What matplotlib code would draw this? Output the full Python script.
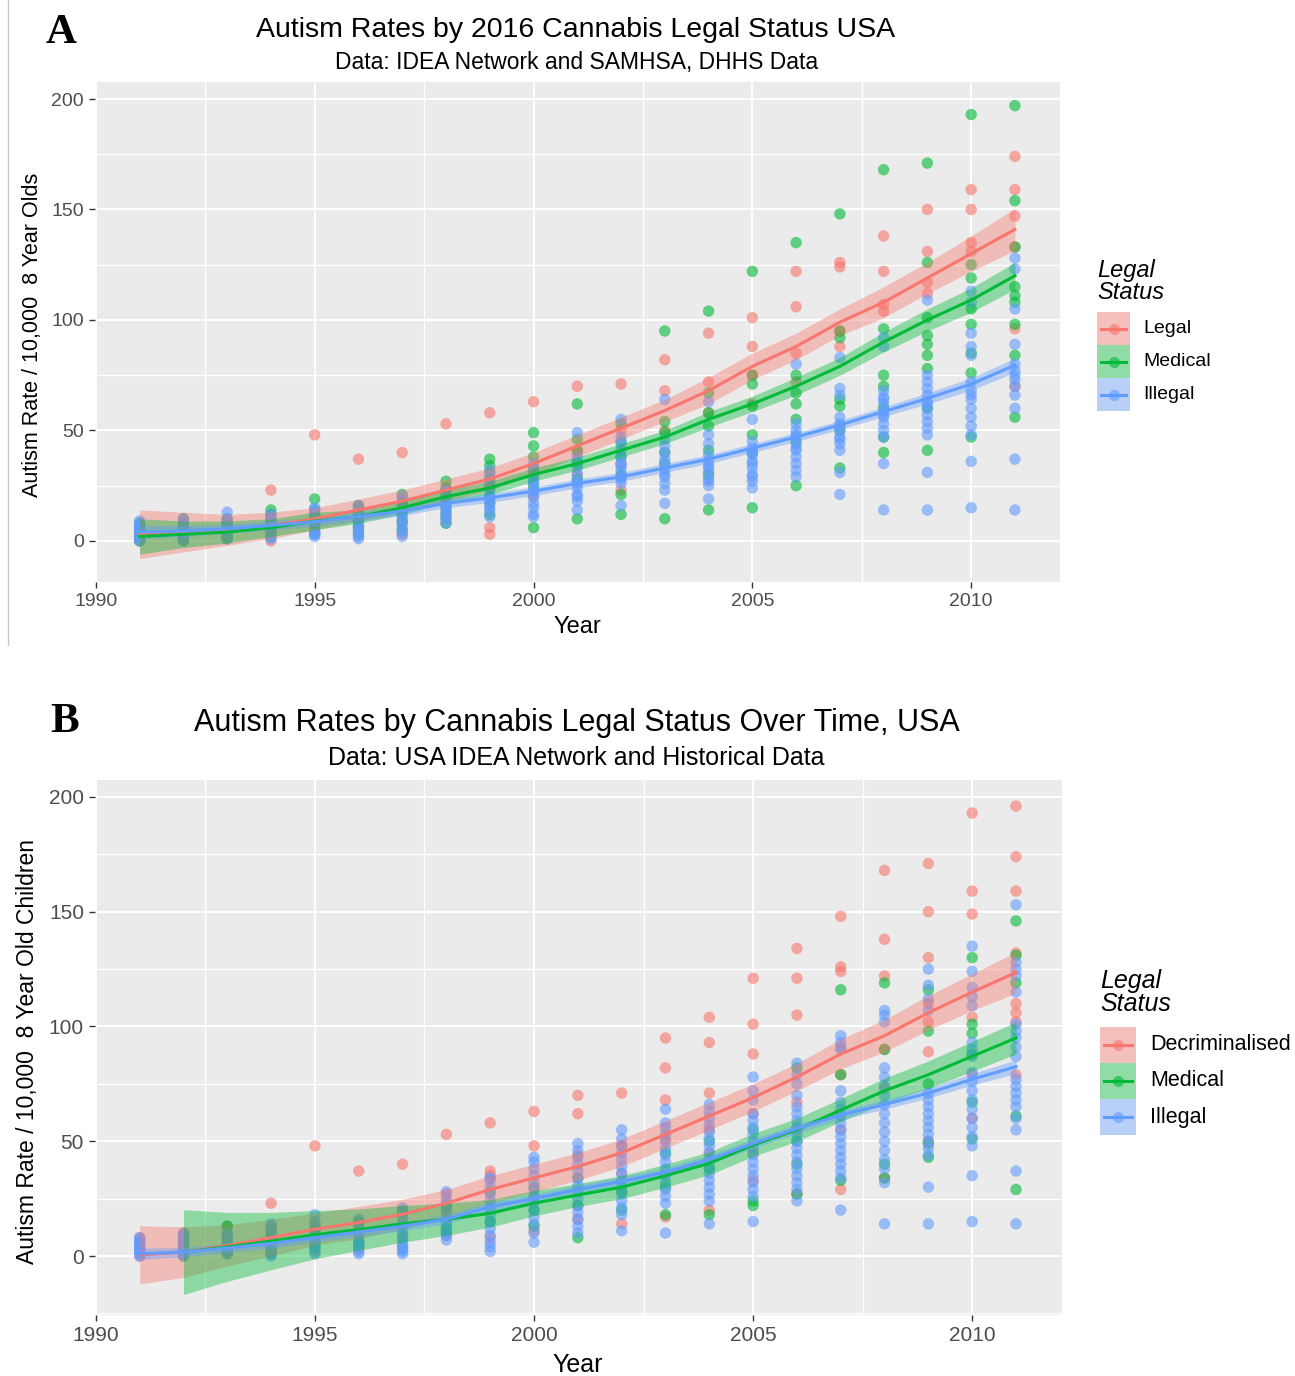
import numpy as np
import matplotlib
matplotlib.use("Agg")
import matplotlib.pyplot as plt
from matplotlib.ticker import MultipleLocator
from matplotlib.patches import Rectangle
from matplotlib.lines import Line2D

plt.rcParams['font.family'] = ['Liberation Sans', 'DejaVu Sans']

years = list(range(1991, 2012))

# ---- Panel A: 2016 legal status ----
a_legal = [
    [2, 5, 0, 7], [1, 4, 8, 2], [2, 6, 9, 1], [23, 0, 5, 9], [48, 10, 4, 7],
    [37, 12, 6], [40, 18, 8, 3], [53, 23, 10], [58, 6, 3, 25], [63, 30, 20],
    [70, 40, 30], [71, 50, 35, 23], [82, 68, 50], [94, 72, 58], [101, 88, 75, 62],
    [122, 106, 85, 72], [126, 124, 88, 95], [138, 122, 107, 104], [150, 131, 117, 112],
    [159, 150, 131, 135], [174, 159, 147, 96, 70, 133],
]
a_medical = [
    [1, 4, 8, 0, 6, 3, 2], [0, 3, 6, 10, 2, 5], [1, 5, 8, 3, 10], [14, 2, 6, 10, 12],
    [19, 3, 8, 12, 14], [15, 3, 9, 16, 6], [21, 5, 12, 17, 9], [27, 8, 15, 20, 24, 12],
    [37, 34, 12, 20, 28, 31, 17], [49, 43, 38, 6, 25, 33], [62, 46, 41, 10, 28, 35],
    [53, 45, 21, 12, 38, 30], [95, 54, 49, 10, 40, 35], [104, 67, 58, 52, 41, 14, 30],
    [122, 75, 71, 61, 48, 15, 40], [135, 75, 67, 62, 25, 45, 55],
    [148, 95, 92, 64, 61, 33, 50], [168, 96, 75, 70, 47, 40, 60],
    [171, 126, 101, 93, 89, 84, 78, 41, 60], [193, 125, 119, 105, 98, 85, 76, 47],
    [197, 154, 133, 115, 111, 108, 98, 84, 56],
]
a_illegal = [
    [0, 3, 5, 8, 1, 6, 2, 4, 9, 7], [1, 4, 7, 10, 2, 5, 8, 0, 3, 6],
    [13, 2, 5, 8, 10, 4, 7, 1, 3], [1, 3, 6, 9, 12, 4, 8, 11, 2],
    [2, 5, 9, 12, 15, 4, 7, 11, 3, 14], [1, 4, 7, 10, 13, 16, 2, 5, 9, 12],
    [2, 6, 10, 14, 18, 4, 8, 12, 16, 20], [8, 11, 14, 17, 20, 23, 10, 13, 16, 19, 22],
    [11, 14, 17, 20, 23, 26, 29, 32, 15, 19, 24],
    [11, 12, 17, 20, 23, 26, 29, 32, 35, 15, 22, 27],
    [49, 14, 18, 21, 24, 27, 30, 33, 36, 38, 20, 26],
    [55, 16, 26, 29, 32, 35, 38, 41, 44, 47, 28, 34],
    [64, 17, 23, 26, 29, 32, 35, 40, 43, 46, 30, 37],
    [63, 48, 44, 39, 19, 25, 28, 31, 34, 36, 27, 33],
    [55, 42, 39, 36, 33, 30, 27, 24, 45, 40, 35, 29],
    [80, 53, 50, 47, 44, 41, 38, 35, 32, 29, 48, 42],
    [83, 69, 66, 56, 53, 50, 47, 44, 41, 31, 21, 52, 46],
    [92, 88, 68, 65, 62, 59, 56, 53, 50, 47, 35, 14, 64, 57],
    [109, 75, 72, 69, 66, 63, 60, 57, 54, 51, 48, 31, 14, 62],
    [113, 108, 94, 88, 84, 72, 68, 64, 60, 56, 52, 48, 36, 15, 66],
    [128, 123, 105, 89, 80, 77, 73, 66, 60, 37, 14, 75, 70],
]
a_legal_fit = [3, 4, 5, 7, 10, 14, 18, 23, 28, 35, 43, 51, 59, 68, 79, 88, 99, 108, 119, 130, 141]
a_legal_se = [11, 9, 7, 6, 5, 5, 5, 5, 5, 5, 5, 5, 5, 6, 6, 6, 6, 7, 7, 8, 9.5]
a_med_fit = [2, 3, 4, 6, 9, 11, 15, 20, 24, 30, 35, 41, 47, 55, 62, 70, 79, 90, 100, 109, 120]
a_med_se = [8, 6, 5, 4, 4, 3, 3, 3, 3, 3, 3, 3, 3, 3.5, 3.5, 4, 4, 4.5, 5, 5.5, 6]
a_ill_fit = [4, 4.5, 5.5, 7, 8.7, 11, 13.5, 17, 19.5, 22.5, 26, 29, 33, 37, 42, 47, 52.5, 58.5, 64.5, 71, 79.5]
a_ill_se = [3, 2.5, 2, 2, 2, 2, 2, 2, 2, 2, 2, 2, 2, 2, 2, 2, 2, 2.2, 2.5, 2.8, 3.2]

# ---- Panel B: legal status over time ----
b_decrim = [
    [0, 3, 6, 8], [1, 4, 8, 10], [13, 2, 6], [23, 1, 7, 12], [48, 2, 12, 14],
    [37, 3, 14], [40, 19, 8], [53, 27, 9], [58, 37, 35, 8], [63, 48, 11, 26],
    [70, 62, 44, 16], [71, 48, 14, 36], [95, 82, 68, 51, 17], [104, 93, 71, 20, 55, 45],
    [121, 101, 88, 62, 45, 33], [134, 121, 105, 67, 55, 27], [148, 126, 124, 79, 55, 29],
    [168, 138, 122, 90, 73, 34], [171, 150, 130, 110, 102, 89, 50],
    [193, 159, 149, 104, 79, 60], [196, 174, 159, 110, 106, 102, 79, 132],
]
b_medical = [
    [], [0, 5, 9], [1, 9, 13], [2, 10], [4, 11], [6, 15], [4, 20], [12, 22], [15, 28],
    [30, 20, 13], [34, 8, 22], [28, 20], [18, 45, 30], [18, 50, 38], [22, 24, 55],
    [27, 82, 40, 50], [116, 79, 33], [119, 90, 34, 40], [116, 75, 49, 43, 98],
    [130, 101, 97, 88, 67, 51], [146, 131, 119, 61, 29],
]
b_illegal = [
    [0, 1, 2, 3, 4, 5, 6, 7, 8, 2, 4], [0, 1, 2, 3, 4, 5, 6, 7, 8, 9, 10],
    [1, 2, 3, 4, 5, 6, 7, 8, 9, 10], [0, 1, 3, 5, 7, 9, 11, 13, 14, 4],
    [18, 1, 3, 5, 7, 9, 11, 13, 15, 6], [1, 2, 4, 6, 8, 10, 12, 14, 16, 5],
    [1, 3, 5, 7, 9, 11, 13, 15, 17, 19, 21, 2], [7, 9, 11, 13, 15, 17, 19, 21, 23, 25, 28, 10],
    [2, 4, 6, 9, 12, 15, 18, 21, 24, 27, 30, 33, 34],
    [6, 10, 14, 17, 20, 23, 26, 29, 32, 35, 38, 41, 43],
    [10, 13, 16, 19, 22, 25, 28, 31, 34, 37, 40, 43, 46, 49],
    [11, 18, 21, 24, 27, 30, 33, 36, 39, 42, 45, 48, 51, 55],
    [10, 23, 26, 29, 32, 35, 38, 41, 44, 47, 50, 53, 56, 58, 64],
    [14, 24, 27, 30, 33, 36, 39, 42, 45, 48, 51, 54, 57, 60, 63, 66],
    [15, 26, 29, 32, 35, 38, 41, 44, 47, 50, 53, 56, 59, 62, 68, 72, 78],
    [24, 29, 32, 35, 38, 41, 44, 47, 50, 53, 56, 59, 62, 65, 70, 75, 79, 84],
    [20, 34, 37, 40, 43, 46, 49, 52, 55, 58, 61, 64, 67, 72, 90, 93, 96, 91],
    [14, 32, 38, 42, 46, 50, 54, 58, 62, 66, 70, 74, 78, 82, 102, 105, 107],
    [14, 30, 44, 47, 50, 53, 56, 59, 62, 65, 68, 71, 107, 112, 118, 125],
    [15, 35, 48, 52, 56, 60, 64, 68, 72, 76, 80, 87, 90, 93, 109, 113, 117, 124, 135],
    [14, 37, 55, 60, 65, 68, 71, 74, 77, 87, 91, 95, 98, 101, 115, 122, 125, 128, 153],
]
b_dec_fit = [0.5, 1.7, 4.6, 8, 11.7, 14.6, 18.2, 23, 29, 34, 39, 45, 53, 61, 69, 78, 88, 96, 106, 115, 123.5]
b_dec_se = [12.7, 11, 9, 8, 7, 7, 6.5, 6, 6, 6, 6, 6, 6, 6, 6, 6, 6.5, 7, 7.5, 8, 9]
b_med_years = list(range(1992, 2012))
b_med_fit = [1.7, 4, 6.5, 9.3, 11.5, 14, 16, 18.6, 23, 26.6, 30, 35, 40.4, 48.4, 55, 63.6, 72, 79, 87, 95]
b_med_se = [18.5, 15, 12.5, 10.5, 9, 8, 7, 6, 5.5, 5, 5, 5, 5, 5, 5, 5, 5.5, 6, 6.5, 7]
b_ill_fit = [1, 1.7, 3.5, 5.5, 8, 10.5, 13, 16, 21.5, 25, 29, 32.5, 36.5, 42, 49, 55.5, 61.5, 66, 71, 77, 82.5]
b_ill_se = [2.5, 2, 2, 2, 2, 2, 2, 2, 2, 2, 2, 2, 2, 2, 2, 2, 2, 2, 2.2, 2.5, 3]

RED, GREEN, BLUE = '#F8766D', '#00BA38', '#619CFF'

W, H = 1295, 1376
fig = plt.figure(figsize=(W / 100, H / 100), dpi=100)


def fx(px):
    return px / W


def fy(py):
    return 1 - py / H


def flatten(groups, yrs):
    xs, ys = [], []
    for yr, vals in zip(yrs, groups):
        xs += [yr] * len(vals)
        ys += vals
    return xs, ys


def make_panel(box, xlim, ylim, tick_size):
    l, t, r, b = box
    ax = fig.add_axes([fx(l), fy(b), fx(r) - fx(l), fy(t) - fy(b)])
    ax.set_facecolor('#EBEBEB')
    ax.set_xlim(*xlim)
    ax.set_ylim(*ylim)
    ax.xaxis.set_major_locator(MultipleLocator(5))
    ax.xaxis.set_minor_locator(MultipleLocator(2.5))
    ax.yaxis.set_major_locator(MultipleLocator(50))
    ax.yaxis.set_minor_locator(MultipleLocator(25))
    ax.grid(which='major', color='white', lw=1.4)
    ax.grid(which='minor', color='white', lw=1.0)
    ax.set_axisbelow(True)
    for s in ax.spines.values():
        s.set_visible(False)
    ax.tick_params(which='major', length=4, width=1, color='#333333',
                   labelsize=tick_size, labelcolor='#4D4D4D', pad=4)
    ax.tick_params(which='minor', length=0)
    return ax


def draw_points(ax, groups, yrs, color):
    xs, ys = flatten(groups, yrs)
    ax.scatter(xs, ys, s=68, color=color, alpha=0.6, edgecolors='none', zorder=2)


def draw_fit(ax, fit_yrs, fit, se, color):
    fit = np.array(fit, dtype=float)
    se = np.array(se, dtype=float)
    ax.fill_between(fit_yrs, fit - se, fit + se, color=color, alpha=0.4, lw=0, zorder=3)
    ax.plot(fit_yrs, fit, color=color, lw=2.2, zorder=4)


def legend(x0, ytop, key, labels, title_y, label_x, title_size, label_size):
    fig.text(fx(x0), fy(title_y), 'Legal\nStatus', fontsize=title_size, style='italic',
             ha='left', va='top', linespacing=0.95)
    for i, (lab, col) in enumerate(zip(labels, [RED, GREEN, BLUE])):
        top = ytop + i * key
        fig.add_artist(Rectangle((fx(x0), fy(top + key)), fx(key), fy(top) - fy(top + key),
                                 transform=fig.transFigure, color='#F2F2F2', lw=0))
        fig.add_artist(Rectangle((fx(x0), fy(top + key)), fx(key), fy(top) - fy(top + key),
                                 transform=fig.transFigure, color=col, alpha=0.4, lw=0))
        cy = fy(top + key / 2)
        fig.add_artist(Line2D([fx(x0 + 4), fx(x0 + key - 4)], [cy, cy],
                              transform=fig.transFigure, color=col, lw=2.2))
        fig.add_artist(Line2D([fx(x0 + key / 2)], [cy], transform=fig.transFigure,
                              marker='o', ms=8, color=col, alpha=0.6, mec='none'))
        fig.text(fx(label_x), cy, lab, fontsize=label_size, va='center', ha='left')


# ---------- Panel A ----------
axA = make_panel((95, 82, 1060, 582), (1989.98, 2012.03), (-18.6, 207.7), 14)
draw_points(axA, a_legal, years, RED)
draw_points(axA, a_medical, years, GREEN)
draw_points(axA, a_illegal, years, BLUE)
draw_fit(axA, years, a_legal_fit, a_legal_se, RED)
draw_fit(axA, years, a_med_fit, a_med_se, GREEN)
draw_fit(axA, years, a_ill_fit, a_ill_se, BLUE)
fig.text(fx(577), fy(627), 'Year', fontsize=17, ha='center', va='center')
fig.text(fx(33), fy(335), 'Autism Rate / 10,000  8 Year Olds', rotation=90,
         fontsize=15.5, ha='center', va='center')
fig.text(fx(576), fy(30), 'Autism Rates by 2016 Cannabis Legal Status USA',
         fontsize=20.5, ha='center', va='center')
fig.text(fx(577), fy(63), 'Data: IDEA Network and SAMHSA, DHHS Data',
         fontsize=16.5, ha='center', va='center')
fig.text(fx(61), fy(33), 'A', fontsize=31, fontweight='bold',
         family='Liberation Serif', ha='center', va='center')
legend(1097, 312, 33, ['Legal', 'Medical', 'Illegal'], 259, 1143, 17, 14)

# ---------- Panel B ----------
axB = make_panel((95, 780, 1062, 1315), (1989.98, 2012.05), (-25.7, 207.4), 15)
draw_points(axB, b_decrim, years, RED)
draw_points(axB, b_medical, years, GREEN)
draw_points(axB, b_illegal, years, BLUE)
draw_fit(axB, years, b_dec_fit, b_dec_se, RED)
draw_fit(axB, b_med_years, b_med_fit, b_med_se, GREEN)
draw_fit(axB, years, b_ill_fit, b_ill_se, BLUE)
fig.text(fx(578), fy(1365), 'Year', fontsize=18, ha='center', va='center')
fig.text(fx(28), fy(1051), 'Autism Rate / 10,000  8 Year Old Children', rotation=90,
         fontsize=16.5, ha='center', va='center')
fig.text(fx(577), fy(723), 'Autism Rates by Cannabis Legal Status Over Time, USA',
         fontsize=22, ha='center', va='center')
fig.text(fx(576), fy(758), 'Data: USA IDEA Network and Historical Data',
         fontsize=18, ha='center', va='center')
fig.text(fx(65), fy(722), 'B', fontsize=31, fontweight='bold',
         family='Liberation Serif', ha='center', va='center')
legend(1100, 1027, 36, ['Decriminalised', 'Medical', 'Illegal'], 969, 1150, 18, 15.5)

# thin border line at left of panel A
fig.add_artist(Line2D([fx(8), fx(8)], [fy(0), fy(645)], transform=fig.transFigure,
                      color='#C8C8C8', lw=1))

fig.savefig('out.png', dpi=100)
